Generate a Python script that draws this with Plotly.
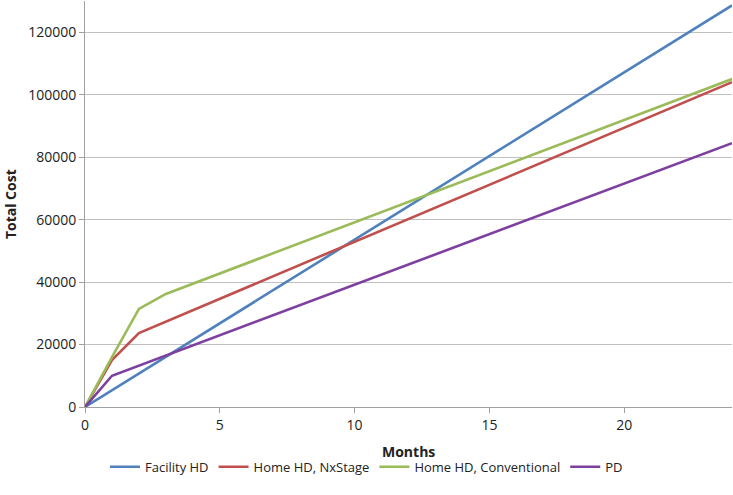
import plotly.graph_objects as go

# Data
facility_months = [0, 24]
facility_cost = [0, 128600]

nxstage_months = [0, 1, 2, 24]
nxstage_cost = [0, 15000, 23700, 104000]

conventional_months = [0, 1, 2, 3, 24]
conventional_cost = [0, 16000, 31400, 36200, 105000]

pd_months = [0, 1, 24]
pd_cost = [0, 10000, 84500]

series = [
    ("Facility HD", facility_months, facility_cost, "#4F81BD"),
    ("Home HD, NxStage", nxstage_months, nxstage_cost, "#C0504D"),
    ("Home HD, Conventional", conventional_months, conventional_cost, "#9BBB59"),
    ("PD", pd_months, pd_cost, "#7D3FA0"),
]

x_ticks = [0, 5, 10, 15, 20]
y_ticks = [0, 20000, 40000, 60000, 80000, 100000, 120000]

fig = go.Figure()
for name, xs, ys, color in series:
    fig.add_trace(go.Scatter(x=xs, y=ys, mode="lines", name=name,
                             line=dict(color=color, width=2.6)))

font_family = "Open Sans, Liberation Sans, sans-serif"

fig.update_layout(
    width=733, height=495,
    margin=dict(l=85, r=1, t=1, b=88),
    paper_bgcolor="white", plot_bgcolor="white",
    font=dict(family=font_family, size=13, color="#222222"),
    showlegend=True,
    legend=dict(orientation="h", xref="container", yref="container",
                x=0.5, xanchor="center", y=0.057, yanchor="middle",
                font=dict(size=13), itemwidth=30, tracegroupgap=0),
    xaxis=dict(range=[0, 24], tickvals=x_ticks, showgrid=False,
               showline=True, linecolor="#a0a0a0", linewidth=1,
               ticks="outside", tickcolor="#a0a0a0", ticklen=5,
               zeroline=False, automargin=False, tickfont=dict(size=14)),
    yaxis=dict(range=[0, 130000], tickvals=y_ticks, tickformat="d",
               showgrid=True, gridcolor="#c0c0c0", gridwidth=1,
               showline=True, linecolor="#a0a0a0", linewidth=1,
               ticks="outside", tickcolor="#a0a0a0", ticklen=5,
               zeroline=False, automargin=False, tickfont=dict(size=14)),
    annotations=[
        dict(text="<b>Months</b>", xref="paper", yref="paper",
             x=0.5, y=-45 / 406, xanchor="center", yanchor="middle",
             showarrow=False, font=dict(size=14)),
        dict(text="<b>Total Cost</b>", xref="paper", yref="paper",
             x=-75 / 648, y=0.5, xanchor="center", yanchor="middle",
             textangle=-90, showarrow=False, font=dict(size=14)),
    ],
)

fig.write_html("out.html", config={"displayModeBar": False},
               post_script="document.body.style.margin='0';document.body.style.padding='0';")
